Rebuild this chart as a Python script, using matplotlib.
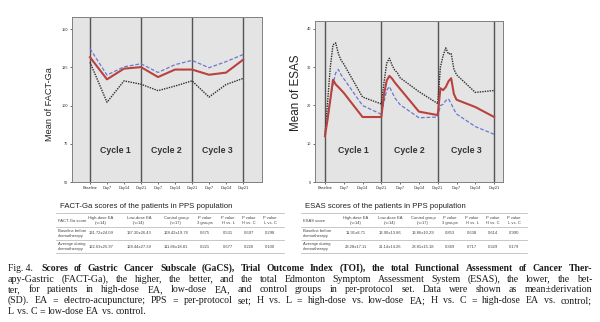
import matplotlib
matplotlib.use('Agg')
import matplotlib.pyplot as plt
from matplotlib.lines import Line2D

W, H = 600, 322
fig = plt.figure(figsize=(6, 3.22), dpi=100)
fig.patch.set_facecolor('white')

SANS = ['Liberation Sans', 'DejaVu Sans']
SERIF = ['Liberation Serif', 'DejaVu Serif']


def fx(px):
    return px / W


def fy(py):
    return 1 - py / H


# ---------------- data ----------------
tick_days = [0, 7, 14, 21, 28, 35, 42, 49, 56, 63]
tick_labels = ['Baseline', 'Day7', 'Day14', 'Day21', 'Day7', 'Day14',
               'Day21', 'Day7', 'Day14', 'Day21']
cycle_bounds = [0, 21, 42, 63]
cycle_names = ['Cycle 1', 'Cycle 2', 'Cycle 3']

# FACT-Ga (measured at the tick days)
fact_high = [131.7, 117.2, 124.2, 125.2, 118.7, 123.6, 123.6, 120.2, 121.6, 130.0]
fact_low = [137.3, 120.0, 125.4, 127.4, 121.7, 126.8, 129.6, 124.8, 128.8, 133.4]
fact_ctrl = [128.4, 102.2, 116.2, 114.0, 109.8, 112.8, 116.2, 105.6, 113.8, 117.8]

# ESAS (denser day-by-day readings after each cycle start)
esas_ctrl_days = [0, 1, 2, 3, 4, 5, 6, 7, 14, 21, 22, 23, 24, 25, 26, 27, 28, 35, 42,
                  43, 44, 45, 46, 47, 48, 49, 56, 63]
esas_ctrl = [12.5, 21.0, 30.0, 35.8, 36.3, 33.5, 31.8, 30.8, 22.2, 20.4, 26.0, 31.0, 32.3,
             30.5, 29.2, 28.5, 27.2, 23.6, 20.5, 30.0, 33.0, 35.0, 33.4, 33.6, 29.5,
             28.0, 23.4, 23.9]
esas_high_days = [0, 1, 2, 3, 4, 5, 7, 14, 21, 22, 23, 24, 25, 26, 28, 35, 42,
                  43, 44, 45, 46, 47, 48, 49, 56, 63]
esas_high = [12.0, 16.5, 21.5, 26.7, 25.5, 24.8, 23.3, 17.0, 17.0, 23.0, 26.5, 27.7,
             27.0, 26.0, 24.3, 18.4, 17.5, 24.5, 24.0, 24.8, 26.3, 27.1, 23.0, 21.5,
             19.6, 17.0]
esas_low_days = [0, 1, 2, 3, 4, 5, 6, 7, 14, 21, 22, 23, 24, 25, 26, 28, 35, 42,
                 43, 44, 45, 46, 47, 48, 49, 56, 63]
esas_low = [12.0, 17.0, 22.0, 25.5, 28.5, 29.4, 28.0, 27.0, 20.0, 17.7, 21.0, 24.0, 24.9,
            23.5, 22.0, 20.2, 16.8, 17.0, 20.0, 20.3, 21.3, 21.7, 20.5, 19.0, 17.8,
            14.5, 12.5]

fact_yticks = [50, 75, 100, 125, 150]
esas_yticks = [0, 10, 20, 30, 40]

table_cols = ['High-dose EA\n(n=14)', 'Low-dose EA\n(n=14)', 'Control group\n(n=17)',
              'P value\n3 groups', 'P value\nH vs. L', 'P value\nH vs. C', 'P value\nL vs. C']
row_labels = ['Baseline before\nchemotherapy', 'Average during\nchemotherapy']
fact_rows = [['131.72±24.09', '137.30±26.43', '128.42±19.76', '0.675', '0.531', '0.697', '0.298'],
             ['122.63±25.97', '128.44±27.39', '111.86±18.81', '0.221', '0.677', '0.220', '0.100']]
esas_rows = [['11.91±8.71', '13.90±13.86', '13.86±10.29', '0.853', '0.638', '0.614', '0.990'],
             ['23.28±17.11', '21.14±14.26', '28.81±15.18', '0.369', '0.717', '0.329', '0.179']]

caption_lines = [
    "Scores of Gastric Cancer Subscale (GaCS), Trial Outcome Index (TOI), the total Functional Assessment of Cancer Ther-",
    "apy-Gastric (FACT-Ga), the higher, the better, and the total Edmonton Symptom Assessment System (ESAS), the lower, the bet-",
    "ter, for patients in high-dose EA, low-dose EA, and control groups in per-protocol set. Data were shown as mean±derivation",
    "(SD). EA = electro-acupuncture; PPS = per-protocol set; H vs. L = high-dose vs. low-dose EA; H vs. C = high-dose EA vs. control;",
    "L vs. C = low-dose EA vs. control.",
]

# ---------------- styles ----------------
RED = '#b9423f'
BLUE = '#6a78d0'
BLACK = '#2e2e2e'
BG = '#e4e4e4'
TXT = '#333333'


def make_axes(rect_px, xlim, ylim, yticks):
    l, t, r, b = rect_px
    ax = fig.add_axes([fx(l), fy(b), (r - l) / W, (b - t) / H])
    ax.set_facecolor(BG)
    ax.set_xlim(*xlim)
    ax.set_ylim(*ylim)
    for d in cycle_bounds:
        ax.axvline(d, color='#555555', lw=1.0, zorder=1)
    ax.set_xticks(tick_days)
    ax.set_xticklabels(tick_labels, family=SANS)
    ax.set_yticks(yticks)
    ax.set_yticklabels([str(v) for v in yticks], family=SANS)
    ax.tick_params(labelsize=2.8, length=1.5, width=0.5, pad=1.2, colors=TXT)
    for s in ax.spines.values():
        s.set_color('#808080')
        s.set_linewidth(0.7)
    return ax


# FACT-Ga chart
ax1 = make_axes((72, 17, 262, 182), (-7.4, 70.8), (50, 158), fact_yticks)
ax1.plot(tick_days, fact_ctrl, color=BLACK, lw=1.0, ls=(0, (1, 0.8)), zorder=3)
ax1.plot(tick_days, fact_low, color=BLUE, lw=0.9, ls=(0, (3, 1.5)), zorder=3)
ax1.plot(tick_days, fact_high, color=RED, lw=1.5, zorder=4)
for i, name in enumerate(cycle_names):
    ax1.text((cycle_bounds[i] + cycle_bounds[i + 1]) / 2, 70.4, name, ha='center', va='center',
             fontsize=6.3, fontweight='bold', color=TXT, family=SANS)
fig.text(fx(50), fy(104), 'Mean of FACT-Ga', rotation=90, ha='center', va='center',
         fontsize=6.6, color='#222222', family=SANS)

# ESAS chart
ax2 = make_axes((315, 21, 503, 182.3), (-3.7, 66.3), (0, 42), esas_yticks)
ax2.plot(esas_ctrl_days, esas_ctrl, color=BLACK, lw=1.0, ls=(0, (1, 0.8)), zorder=3)
ax2.plot(esas_low_days, esas_low, color=BLUE, lw=0.9, ls=(0, (3, 1.5)), zorder=3)
ax2.plot(esas_high_days, esas_high, color=RED, lw=1.5, zorder=4)
for i, name in enumerate(cycle_names):
    ax2.text((cycle_bounds[i] + cycle_bounds[i + 1]) / 2, 8.4, name, ha='center', va='center',
             fontsize=6.3, fontweight='bold', color=TXT, family=SANS)
fig.text(fx(296), fy(93), 'Mean of ESAS', rotation=90, ha='center', va='center',
         fontsize=8.4, color='#222222', family=SANS)


# ---------------- tables ----------------
def draw_table(title, first_col, rows, x0, x1, label_x, centers):
    fig.text(fx(label_x + 2), fy(207), title, ha='left', va='center', fontsize=5.6,
             color='#222222', family=SANS)
    rules = [213, 227, 240, 253]
    for yy in rules:
        fig.add_artist(Line2D([fx(x0), fx(x1)], [fy(yy), fy(yy)], color='#b0b0b0', lw=0.5))
    fs = 3.0
    fig.text(fx(label_x), fy(220.5), first_col, ha='left', va='center', fontsize=fs,
             color='#444444', family=SANS)
    for c, h in zip(centers, table_cols):
        fig.text(fx(c), fy(220.5), h, ha='center', va='center', fontsize=fs,
                 color='#444444', family=SANS, linespacing=1.1, multialignment='center')
    for ry, lab, vals in zip([233.5, 246.5], row_labels, rows):
        fig.text(fx(label_x), fy(ry), lab, ha='left', va='center', fontsize=fs,
                 color='#444444', family=SANS, linespacing=1.1)
        for c, v in zip(centers, vals):
            fig.text(fx(c), fy(ry), v, ha='center', va='center', fontsize=fs,
                     color='#444444', family=SANS)


draw_table('FACT-Ga scores of the patients in PPS population', 'FACT-Ga score', fact_rows,
           56, 284, 58, [101, 139, 176, 205, 228, 249, 270])
draw_table('ESAS scores of the patients in PPS population', 'ESAS score', esas_rows,
           301, 527, 303, [356, 390, 423, 450, 472, 493, 514])

# ---------------- caption ----------------
renderer = fig.canvas.get_renderer()
CAP_FS = 7.15
X0, X1 = 8, 592
line_y = [268.5, 279.2, 289.9, 300.6, 311.3]


def caption_line(words, y, justify, bold=False, prefix=None, fs=CAP_FS):
    items = []
    if prefix:
        items.append((prefix, 'normal'))
    items += [(w, 'bold' if bold else 'normal') for w in words]
    texts = [fig.text(0, fy(y), w, ha='left', va='center', fontsize=fs, family=SERIF,
                      fontweight=wt, color='#1a1a1a') for w, wt in items]
    widths = [t.get_window_extent(renderer).width for t in texts]
    if justify and len(texts) > 1:
        gap = (X1 - X0 - sum(widths)) / (len(texts) - 1)
    else:
        gap = fs * 1.389 * 0.25
    x = X0
    for t, w in zip(texts, widths):
        t.set_x(fx(x))
        x += w + gap


for i, line in enumerate(caption_lines):
    words = line.split(' ')
    if i == 0:
        caption_line(words, line_y[i], True, bold=True, prefix='Fig. 4. ', fs=6.95)
    else:
        caption_line(words, line_y[i], i < len(caption_lines) - 1)

fig.savefig('out.png', dpi=100, facecolor='white')
